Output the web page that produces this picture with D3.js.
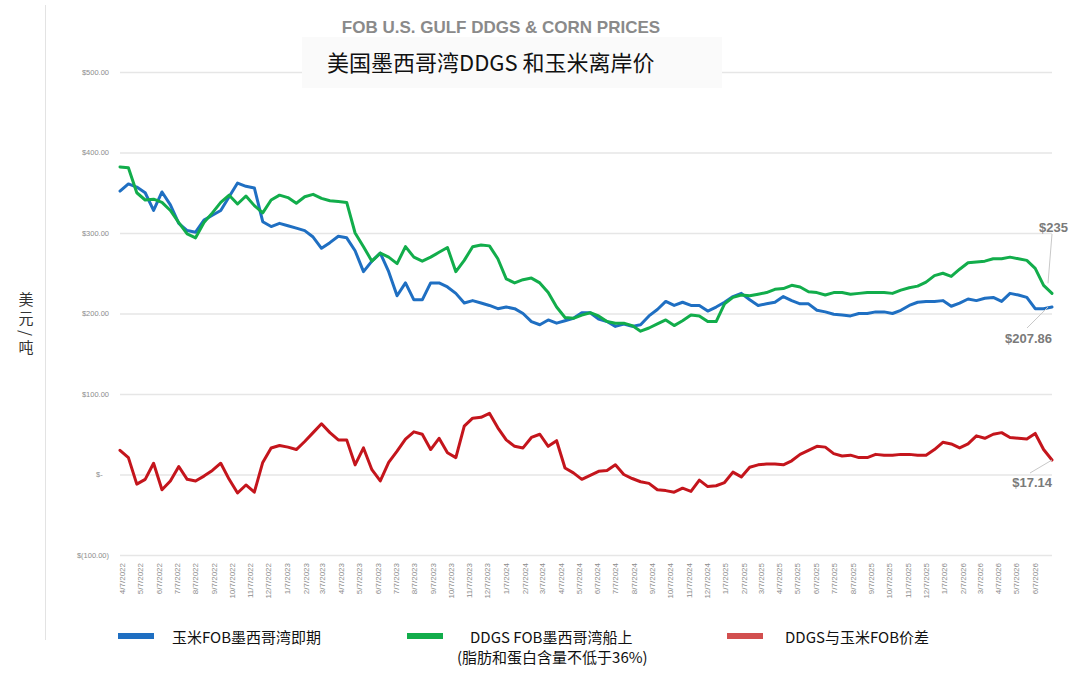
<!DOCTYPE html>
<html lang="zh">
<head>
<meta charset="UTF-8">
<title>FOB U.S. Gulf DDGS & Corn Prices</title>
<style>
  body { margin: 0; background: #fff; }
  svg text { font-family: "Liberation Sans", Arial, sans-serif; }
  svg .cjk { font-family: "Noto Sans CJK SC", "Noto Sans", sans-serif; }
  svg .tick text { font-family: "Liberation Sans Narrow", "Liberation Sans", Arial, sans-serif; }
  svg .vtitle { writing-mode: vertical-rl; text-orientation: mixed; }
</style>
</head>
<body>
<svg id="chart" width="1080" height="679"></svg>
<script src="https://d3js.org/d3.v7.min.js"></script>
<script>
// weekly data sampled every two weeks, starting here
const startDate = "2022-04-04";
const stepDays = 14;

// 玉米FOB墨西哥湾即期 (USD/t)
const corn = [352, 361, 357, 350, 328, 351, 335, 312, 303, 301,
  316, 322, 328, 345, 362, 358, 356, 314, 308, 312,
  309, 306, 303, 295, 281, 288, 296, 294, 278, 252,
  265, 275, 252, 222, 238, 217, 217, 238, 238, 233,
  225, 213, 216, 213, 210, 206, 208, 206, 200, 190,
  186, 192, 188, 191, 194, 201, 201, 193, 190, 184,
  187, 184, 186, 197, 205, 215, 210, 214, 210, 210,
  203, 208, 214, 221, 225, 217, 210, 212, 214, 221,
  216, 212, 212, 204, 202, 199, 198, 197, 200, 200,
  202, 202, 200, 204, 210, 214, 215, 215, 216, 209,
  213, 218, 216, 219, 220, 215, 225, 223, 220, 206,
  206, 208];

// DDGS FOB墨西哥湾船上 (USD/t)
const ddgs = [382, 381, 350, 341, 342, 338, 328, 313, 299, 294,
  313, 325, 338, 347, 336, 346, 334, 325, 341, 347,
  344, 337, 345, 348, 343, 340, 339, 338, 300, 283,
  265, 275, 270, 262, 283, 270, 265, 270, 276, 282,
  252, 266, 283, 285, 284, 268, 243, 238, 242, 244,
  238, 226, 208, 195, 194, 198, 201, 197, 190, 188,
  188, 185, 178, 182, 187, 192, 185, 191, 198, 197,
  190, 190, 212, 220, 223, 222, 224, 226, 230, 231,
  235, 233, 227, 226, 223, 226, 226, 224, 225, 226,
  226, 226, 225, 229, 232, 234, 239, 247, 250, 246,
  255, 263, 264, 265, 268, 268, 270, 268, 266, 256,
  235, 225];

// DDGS与玉米FOB价差 (USD/t)
const spread = [30, 21, -12, -6, 14, -19, -8, 10, -6, -8,
  -2, 5, 14, -6, -23, -13, -22, 15, 33, 36,
  34, 31, 41, 52, 63, 52, 43, 43, 12, 33,
  6, -8, 15, 29, 44, 53, 50, 31, 45, 27,
  21, 60, 70, 71, 76, 58, 43, 35, 33, 46,
  50, 35, 42, 8, 2, -6, -1, 4, 5, 12,
  0, -5, -9, -11, -19, -20, -22, -17, -21, -7,
  -15, -14, -10, 3, -3, 9, 12, 13, 13, 12,
  17, 25, 30, 35, 34, 26, 23, 24, 21, 21,
  25, 24, 24, 25, 25, 24, 24, 31, 40, 38,
  33, 38, 48, 45, 50, 52, 46, 45, 44, 51,
  31, 18];

const yTicks = [500, 400, 300, 200, 100, 0, -100];
const xTickLabels = [
  "4/7/2022", "5/7/2022", "6/7/2022", "7/7/2022", "8/7/2022", "9/7/2022", "10/7/2022", "11/7/2022", "12/7/2022",
  "1/7/2023", "2/7/2023", "3/7/2023", "4/7/2023", "5/7/2023", "6/7/2023", "7/7/2023", "8/7/2023", "9/7/2023",
  "10/7/2023", "11/7/2023", "12/7/2023",
  "1/7/2024", "2/7/2024", "3/7/2024", "4/7/2024", "5/7/2024", "6/7/2024", "7/7/2024", "8/7/2024", "9/7/2024",
  "10/7/2024", "11/7/2024", "12/7/2024",
  "1/7/2025", "2/7/2025", "3/7/2025", "4/7/2025", "5/7/2025", "6/7/2025", "7/7/2025", "8/7/2025", "9/7/2025",
  "10/7/2025", "11/7/2025", "12/7/2025",
  "1/7/2026", "2/7/2026", "3/7/2026", "4/7/2026", "5/7/2026", "6/7/2026"
];

const seriesInfo = [
  { name: "玉米FOB墨西哥湾即期", values: corn, color: "#1f6fc2", legend: "#1f6fc2" },
  { name: "DDGS FOB墨西哥湾船上", values: ddgs, color: "#12ad4b", legend: "#12ad4b" },
  { name: "DDGS与玉米FOB价差", values: spread, color: "#c4151c", legend: "#d24f4f" }
];

const parseDay = d3.utcParse("%Y-%m-%d");
const parseTick = d3.utcParse("%m/%d/%Y");
const t0 = parseDay(startDate);
const dates = corn.map((_, i) => d3.utcDay.offset(t0, i * stepDays));

const svg = d3.select("#chart");
const plotLeft = 120, plotRight = 1052, plotTop = 72, plotBottom = 555;

const x = d3.scaleUtc()
  .domain([t0, dates[dates.length - 1]])
  .range([plotLeft, plotRight]);
const y = d3.scaleLinear()
  .domain([-100, 500])
  .range([plotBottom, plotTop]);

// frame line on the left
svg.append("line")
  .attr("x1", 45.5).attr("x2", 45.5)
  .attr("y1", 5).attr("y2", 640)
  .attr("stroke", "#e3e3e3").attr("stroke-width", 1);

// y axis with gridlines
const fmtY = v => v > 0 ? "$" + v.toFixed(2) : (v === 0 ? "$-   " : "$(" + Math.abs(v).toFixed(2) + ")");
const yAxis = svg.append("g")
  .attr("transform", `translate(${plotLeft},0)`)
  .call(d3.axisLeft(y).tickValues(yTicks).tickSize(-(plotRight - plotLeft)).tickPadding(11).tickFormat(fmtY));
yAxis.select(".domain").remove();
yAxis.selectAll(".tick line").attr("stroke", "#e6e6e6").attr("stroke-width", 1.3);
yAxis.selectAll(".tick text").attr("fill", "#8c8c8c").attr("font-size", 7.5).attr("xml:space", "preserve");

// x axis labels (monthly)
const xAxis = svg.append("g")
  .attr("transform", `translate(0,${plotBottom})`)
  .call(d3.axisBottom(x).tickValues(xTickLabels.map(parseTick)).tickSize(0).tickFormat(d3.utcFormat("%-m/%-d/%Y")));
xAxis.select(".domain").remove();
xAxis.selectAll(".tick text")
  .attr("transform", "rotate(-90)")
  .attr("x", -8).attr("y", 0).attr("dy", "0.35em")
  .attr("text-anchor", "end")
  .attr("fill", "#8c8c8c").attr("font-size", 8);

// lines
const line = d3.line()
  .x((d, i) => x(dates[i]))
  .y(d => y(d))
  .curve(d3.curveLinear);

svg.append("g").selectAll("path")
  .data(seriesInfo)
  .join("path")
  .attr("d", s => line(s.values))
  .attr("fill", "none")
  .attr("stroke", s => s.color)
  .attr("stroke-width", 3)
  .attr("stroke-linejoin", "round")
  .attr("stroke-linecap", "round");

// end labels with leader lines
const lastIdx = dates.length - 1;
const lastX = x(dates[lastIdx]);
const endNotes = [
  { text: "$235", lx: 1068, ly: 232, tx: lastX - 4, ty: y(ddgs[lastIdx - 1]) - 2, sx: lastX, sy: 234 },
  { text: "$207.86", lx: 1052, ly: 343, tx: lastX - 4, ty: y(corn[lastIdx]), sx: 1027, sy: 328 },
  { text: "$17.14", lx: 1052, ly: 487, tx: lastX, ty: y(spread[lastIdx]), sx: 1030, sy: 473 }
];
svg.append("g").selectAll("line")
  .data(endNotes)
  .join("line")
  .attr("x1", d => d.sx).attr("y1", d => d.sy)
  .attr("x2", d => d.tx).attr("y2", d => d.ty)
  .attr("stroke", "#c8c8c8").attr("stroke-width", 1);
svg.append("g").selectAll("text")
  .data(endNotes)
  .join("text")
  .attr("x", d => d.lx).attr("y", d => d.ly)
  .attr("text-anchor", "end")
  .attr("font-size", 13).attr("font-weight", "bold")
  .attr("fill", "#7a7a7a")
  .text(d => d.text);

// titles
svg.append("text")
  .attr("x", 501).attr("y", 33)
  .attr("text-anchor", "middle")
  .attr("font-size", 17).attr("font-weight", "bold")
  .attr("fill", "#8a8a8a")
  .text("FOB U.S. GULF DDGS & CORN PRICES");
svg.append("rect")
  .attr("x", 302).attr("y", 37).attr("width", 420).attr("height", 51)
  .attr("fill", "#fafafa");
svg.append("text")
  .attr("class", "cjk")
  .attr("x", 327).attr("y", 71)
  .attr("font-size", 22)
  .attr("fill", "#111")
  .text("美国墨西哥湾DDGS 和玉米离岸价");

// y axis title, vertical writing
svg.append("text")
  .attr("class", "cjk vtitle")
  .attr("x", 26).attr("y", 292)
  .attr("font-size", 15)
  .attr("letter-spacing", 4)
  .attr("fill", "#333")
  .text("美元/吨");

// legend
const legendItems = [
  { sx: 118, tx: 172, lines: ["玉米FOB墨西哥湾即期"], tOff: [0] },
  { sx: 407, tx: 470, lines: ["DDGS FOB墨西哥湾船上", "(脂肪和蛋白含量不低于36%)"], tOff: [0, -13] },
  { sx: 727, tx: 785, lines: ["DDGS与玉米FOB价差"], tOff: [0] }
];
const lg = svg.append("g").selectAll("g")
  .data(legendItems)
  .join("g");
lg.append("rect")
  .attr("x", d => d.sx).attr("y", 633)
  .attr("width", 36).attr("height", 6)
  .attr("fill", (d, i) => seriesInfo[i].legend);
lg.each(function (d) {
  d3.select(this).selectAll("text")
    .data(d.lines)
    .join("text")
    .attr("class", "cjk")
    .attr("x", (t, j) => d.tx + d.tOff[j])
    .attr("y", (t, j) => 643 + j * 20)
    .attr("font-size", 15)
    .attr("fill", "#111")
    .text(t => t);
});
</script>
</body>
</html>
